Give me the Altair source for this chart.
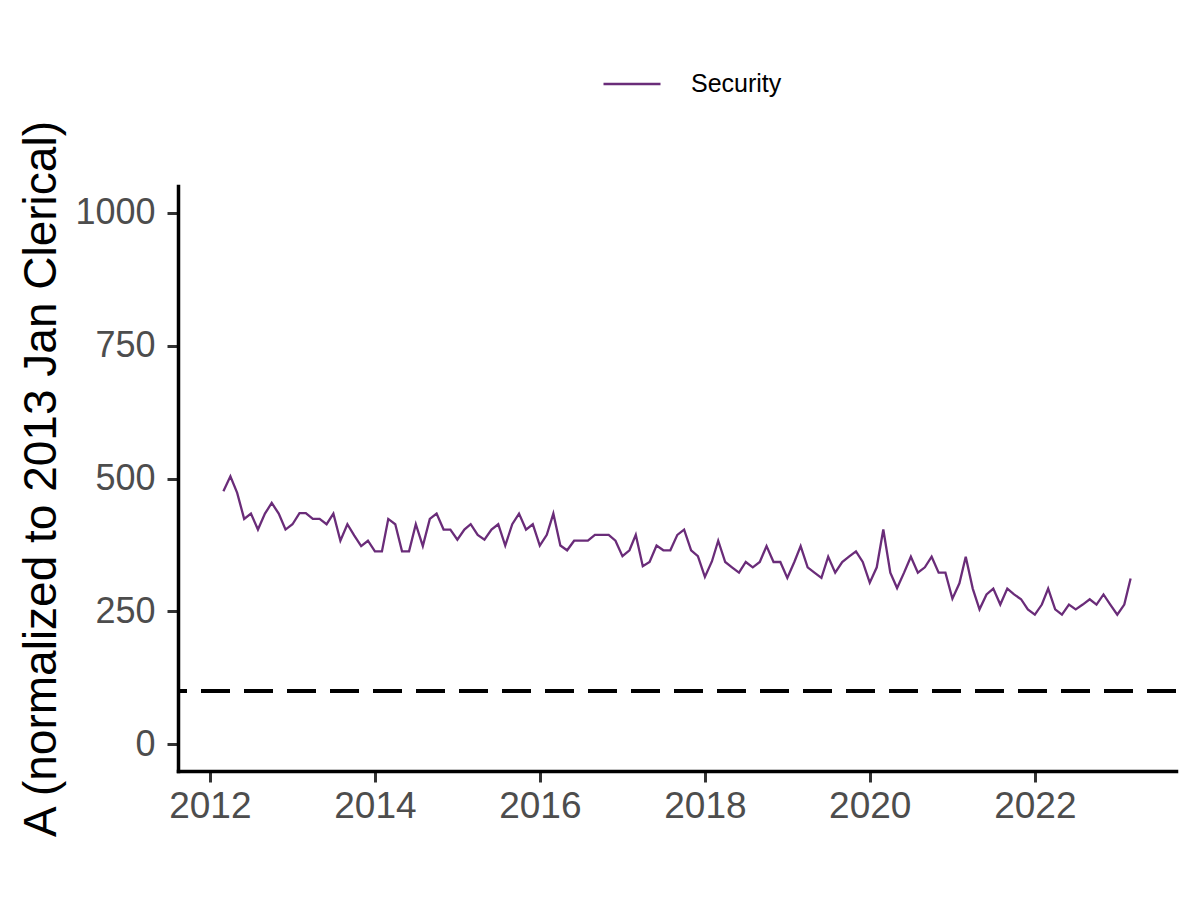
import altair as alt
import pandas as pd

start_month = "2012-03-01T00:00:00"
n_months = 133
series_name = "Security"
values = [
    476, 504, 473, 424, 434, 404, 434, 454, 434, 404, 414, 435, 435, 424, 424, 414,
    434, 383, 414, 393, 373, 383, 363, 363, 424, 414, 363, 363, 414, 373, 424, 434,
    404, 404, 385, 404, 414, 394, 385, 404, 414, 374, 414, 434, 404, 414, 374, 394,
    434, 374, 365, 383, 383, 383, 394, 394, 394, 383, 354, 365, 394, 335, 343, 374,
    365, 365, 394, 404, 365, 354, 315, 344, 383, 343, 333, 323, 343, 333, 343, 373,
    343, 343, 313, 343, 373, 333, 323, 313, 353, 323, 343, 353, 363, 343, 304, 333,
    404, 323, 294, 323, 353, 323, 333, 353, 323, 323, 274, 303, 353, 293, 254, 282,
    293, 263, 293, 282, 273, 254, 244, 263, 293, 254, 244, 263, 254, 263, 273, 263,
    282, 263, 244, 263, 312,
]
ref_value = 100
y_ticks = [0, 250, 500, 750, 1000]
x_tick_years = [2012, 2014, 2016, 2018, 2020, 2022]
y_title = "A (normalized to 2013 Jan Clerical)"

dates = pd.date_range(start_month, periods=n_months, freq="MS")
df = pd.DataFrame({
    "date": dates.strftime("%Y-%m-%dT%H:%M:%S"),
    "value": values,
    "series": series_name,
})

PURPLE = "#6A2C79"
FONT = "Liberation Sans"

x_enc = alt.X(
    "date:T",
    scale=alt.Scale(domain=[alt.DateTime(year=2011, month=8, date=13),
                            alt.DateTime(year=2023, month=9, date=18)]),
    axis=alt.Axis(
        values=[alt.DateTime(year=y, month=1, date=1) for y in x_tick_years],
        format="%Y", title=None, grid=False,
        labelFontSize=37, labelColor="#4D4D4D", labelFont=FONT, labelPadding=6,
        tickSize=11, tickWidth=3, tickColor="#333333",
        domainColor="black", domainWidth=3.5, domainCap="square",
        labelFlush=False, labelOverlap=False,
    ),
)
y_scale = alt.Scale(domain=[-50, 1050], nice=False, zero=False)
y_axis = alt.Axis(
    values=y_ticks, format="d", title=y_title, grid=False,
    labelFontSize=36, labelColor="#4D4D4D", labelFont=FONT, labelPadding=12,
    tickSize=11, tickWidth=3, tickColor="#333333",
    domainColor="black", domainWidth=3.5, domainCap="square",
    titleFont=FONT, titleFontSize=46, titleColor="black", titleFontWeight="normal",
    titleAngle=270, titleAlign="center", titleBaseline="alphabetic",
    titleX=-123, titleY=292.5,
    labelFlush=False, labelOverlap=False,
)

line = alt.Chart(df).mark_line(strokeWidth=2.3).encode(
    x=x_enc,
    y=alt.Y("value:Q", scale=y_scale, axis=y_axis),
    color=alt.Color(
        "series:N",
        scale=alt.Scale(domain=[series_name], range=[PURPLE]),
        title=None,
        legend=alt.Legend(
            orient="none", legendX=424, legendY=-132,
            symbolType="stroke", symbolSize=3249, symbolStrokeWidth=2.3,
            labelFontSize=25, labelColor="black", labelFont=FONT,
            labelOffset=29, padding=0,
        ),
    ),
)

rule = alt.Chart(df).mark_rule(strokeDash=[29, 14], strokeWidth=3, color="black").encode(
    y=alt.datum(ref_value),
)

chart = alt.layer(rule, line).properties(
    width=998, height=585,
    padding={"left": 170, "top": 178, "right": 16, "bottom": 121},
    autosize=alt.AutoSizeParams(type="none"),
    background="white",
).configure_view(stroke=None)

chart.save("out.html", embed_options={"renderer": "svg", "actions": False})
